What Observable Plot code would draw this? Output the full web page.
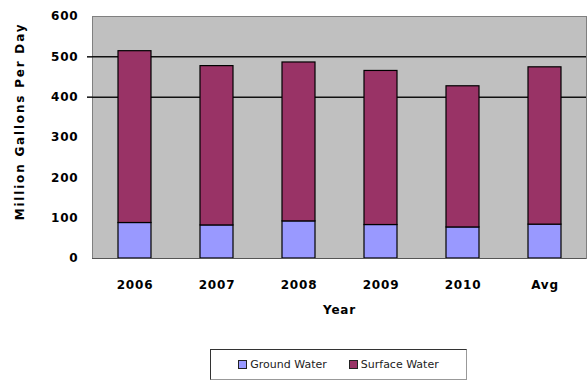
<!DOCTYPE html>
<html>
<head>
<meta charset="utf-8">
<script src="https://cdn.jsdelivr.net/npm/d3@7"></script>
<script src="https://cdn.jsdelivr.net/npm/@observablehq/plot@0.6"></script>
<style>
  body { margin: 0; background: #fff; }
  #wrap { position: relative; width: 587px; height: 381px; }
  #legend {
    position: absolute; left: 210px; top: 349px; width: 255px; height: 29px;
    border: 1px solid #333; border-right-color: #999; border-bottom-color: #999;
    display: flex; align-items: center; justify-content: center; gap: 22px;
    font-family: "DejaVu Sans", sans-serif; font-size: 11px; color: #222;
  }
  #legend span.item { display: flex; align-items: center; gap: 3px; }
  #legend i { display: inline-block; width: 7px; height: 7px; border: 1px solid #222; }
  .ylabel { letter-spacing: 1.8px; }
</style>
</head>
<body>
<div id="wrap"></div>
<script>
// Daily water use by source, million gallons per day
const years = ["2006", "2007", "2008", "2009", "2010", "Avg"];
const groundWater = [88, 82, 92, 83, 77, 84];
const surfaceWater = [426, 395, 394, 382, 350, 390];
const sources = ["Ground Water", "Surface Water"];
const colors = ["#9999FF", "#993366"];
const yTicks = [0, 100, 200, 300, 400, 500, 600];
const gridValues = [400, 500];

const rows = [];
years.forEach((y, i) => {
  rows.push({year: y, source: sources[0], value: groundWater[i]});
  rows.push({year: y, source: sources[1], value: surfaceWater[i]});
});

const chart = Plot.plot({
  width: 587,
  height: 330,
  marginTop: 16,
  marginBottom: 72,
  marginLeft: 92,
  marginRight: 1,
  style: {fontFamily: "DejaVu Sans, sans-serif", fontWeight: "bold", fontSize: "12px", letterSpacing: "0.8px", color: "#000", background: "#fff"},
  x: {domain: years, paddingInner: 0.6, paddingOuter: 0.3, label: null},
  y: {domain: [0, 600], label: null},
  color: {domain: sources, range: colors},
  marks: [
    Plot.frame({fill: "#C0C0C0", stroke: "#808080"}),
    Plot.ruleY(gridValues, {stroke: "#111", strokeWidth: 1.5}),
    Plot.axisY(gridValues, {tickSize: 5, text: null, stroke: "#111", strokeWidth: 1.5}),
    Plot.axisY(yTicks, {tickSize: 0, tickPadding: 14, label: null}),
    Plot.axisX({tickSize: 0, tickPadding: 22, label: null}),
    Plot.barY(rows, {x: "year", y: "value", fill: "source", stroke: "#000", strokeWidth: 1.2}),
    Plot.ruleY([0], {stroke: "#555"}),
    Plot.text(["Year"], {frameAnchor: "bottom", dy: 55, fontWeight: "bold"}),
    Plot.text(["Million Gallons Per Day"], {frameAnchor: "left", dx: -72, dy: -16, rotate: -90, textAnchor: "middle", fontWeight: "bold", className: "ylabel"})
  ]
});

const wrap = document.getElementById("wrap");
wrap.appendChild(chart);

const legend = document.createElement("div");
legend.id = "legend";
sources.forEach((s, i) => {
  const item = document.createElement("span");
  item.className = "item";
  const sw = document.createElement("i");
  sw.style.background = colors[i];
  item.appendChild(sw);
  item.appendChild(document.createTextNode(s));
  legend.appendChild(item);
});
wrap.appendChild(legend);
</script>
</body>
</html>
